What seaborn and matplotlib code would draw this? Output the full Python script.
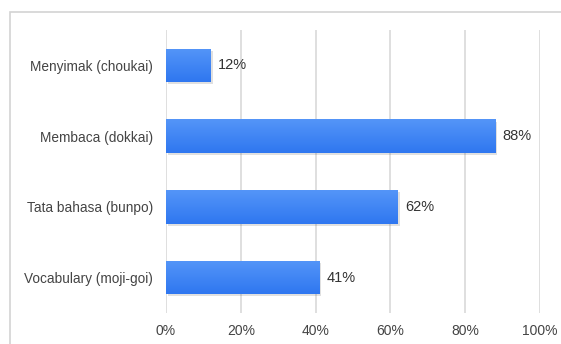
import matplotlib
matplotlib.use("Agg")
import matplotlib.pyplot as plt
import seaborn as sns
import pandas as pd
import numpy as np
from matplotlib.patches import Rectangle
from matplotlib.colors import LinearSegmentedColormap
import matplotlib.patheffects as pe

categories = ["Menyimak (choukai)", "Membaca (dokkai)", "Tata bahasa (bunpo)", "Vocabulary (moji-goi)"]
values = [12, 88, 62, 41]
tick_values = [0, 20, 40, 60, 80, 100]
tick_labels = ["0%", "20%", "40%", "60%", "80%", "100%"]

df = pd.DataFrame({"cat": categories, "val": values})

sns.set_style("white")
plt.rcParams['font.family'] = ['Liberation Sans', 'DejaVu Sans']

fig = plt.figure(figsize=(5.61, 3.44), dpi=100)
ax = fig.add_axes([166/561, 1-313/344, (540-166)/561, (313-30)/344])

# outer frame
fig.patches.append(Rectangle((10/561, -0.1), 1.2, 1 - 12/344 + 0.1, transform=fig.transFigure,
                             fill=False, edgecolor="#d3d3d3", linewidth=1.2, zorder=0))

sns.barplot(data=df, x="val", y="cat", orient="h", color="#3a80f4", width=0.47,
            ax=ax, zorder=3, saturation=1)

cmap = LinearSegmentedColormap.from_list("g", ["#5495f8", "#2f77f0"])
grad = np.linspace(0, 1, 64).reshape(-1, 1)
for p in list(ax.patches):
    p.set_path_effects([pe.SimplePatchShadow(offset=(1.2, -1.5), alpha=0.16, shadow_rgbFace="#444444"), pe.Normal()])
    p.set_edgecolor("none")
    x0, y0 = p.get_x(), p.get_y()
    w, h = p.get_width(), p.get_height()
    im = ax.imshow(grad, cmap=cmap, aspect="auto", extent=(x0, x0 + w, y0 + h, y0),
                   origin="upper", zorder=4)
    im.set_clip_path(p)

ax.set_xlim(0, 100)
ax.set_ylim(3.5, -0.5)
ax.set_xticks(tick_values)
ax.set_xticklabels(tick_labels)
ax.grid(axis="x", color="#d9d9d9", linewidth=1.2, zorder=0)
ax.set_axisbelow(True)
for s in ax.spines.values():
    s.set_visible(False)
ax.tick_params(axis="x", length=0, pad=8, labelsize=10, labelcolor="#444444")
ax.tick_params(axis="y", length=0, pad=9.5, labelsize=9.8, labelcolor="#444444")
ax.set_xlabel("")
ax.set_ylabel("")

for i, v in enumerate(values):
    ax.text(v + 2, i, f"{v}%", va="center", ha="left", fontsize=10.5, color="#333333", zorder=5)

fig.savefig("out.png", dpi=100)
